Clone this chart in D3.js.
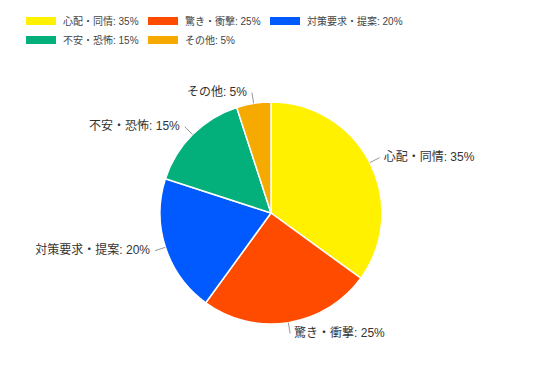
<!DOCTYPE html>
<html>
<head>
<meta charset="utf-8">
<script src="https://cdn.jsdelivr.net/npm/d3@7"></script>
<style>
  body { margin: 0; background: #fff; }
  svg { font-family: Arial, "Liberation Sans", "Noto Sans CJK JP", sans-serif; }
</style>
</head>
<body>
<div id="vis"></div>
<script>
var categories = ['心配・同情', '驚き・衝撃', '対策要求・提案', '不安・恐怖', 'その他'];
var values = [35, 25, 20, 15, 5];
var colors = ['#FFF100', '#FF4B00', '#005AFF', '#03AF7A', '#F6AA00'];

var width = 541, height = 383;
var cx = 271, cy = 213, radius = 111;

var data = categories.map(function (c, i) {
  return { name: c, value: values[i], color: colors[i] };
});

var svg = d3.select('#vis').append('svg')
  .attr('width', width)
  .attr('height', height);

// legend, 3 per row
var legend = svg.append('g').attr('class', 'legend');
var colX = [26, 148, 270];
data.forEach(function (d, i) {
  var row = Math.floor(i / 3), col = i % 3;
  var g = legend.append('g')
    .attr('transform', 'translate(' + colX[col] + ',' + (21 + row * 19) + ')');
  g.append('rect')
    .attr('x', 0).attr('y', -4)
    .attr('width', 30).attr('height', 8)
    .attr('fill', d.color);
  g.append('text')
    .attr('x', 37).attr('y', 0)
    .attr('dy', '0.35em')
    .attr('font-size', 10)
    .attr('fill', '#444')
    .text(d.name + ': ' + d.value + '%');
});

var pie = d3.pie().sort(null).value(function (d) { return d.value; });
var arc = d3.arc().innerRadius(0).outerRadius(radius);
var arcs = pie(data);

var chart = svg.append('g').attr('transform', 'translate(' + cx + ',' + cy + ')');

chart.selectAll('path.slice')
  .data(arcs)
  .enter().append('path')
  .attr('class', 'slice')
  .attr('d', arc)
  .attr('fill', function (d) { return d.data.color; })
  .attr('stroke', '#fff')
  .attr('stroke-width', 1.5);

function pt(d, r) {
  var a = (d.startAngle + d.endAngle) / 2;
  return [Math.sin(a) * r, -Math.cos(a) * r];
}

chart.selectAll('line.leader')
  .data(arcs)
  .enter().append('line')
  .attr('class', 'leader')
  .attr('x1', function (d) { return pt(d, radius)[0]; })
  .attr('y1', function (d) { return pt(d, radius)[1]; })
  .attr('x2', function (d) { return pt(d, radius + 11)[0]; })
  .attr('y2', function (d) { return pt(d, radius + 11)[1]; })
  .attr('stroke', '#999')
  .attr('stroke-width', 1);

chart.selectAll('text.label')
  .data(arcs)
  .enter().append('text')
  .attr('class', 'label')
  .attr('x', function (d) {
    var p = pt(d, radius + 11);
    return p[0] >= 0 ? p[0] + 4 : p[0] - 5;
  })
  .attr('y', function (d) { return pt(d, radius + 11)[1] - 1; })
  .attr('dy', '0.35em')
  .attr('text-anchor', function (d) { return pt(d, 1)[0] >= 0 ? 'start' : 'end'; })
  .attr('font-size', 12)
  .attr('fill', '#333')
  .text(function (d) { return d.data.name + ': ' + d.data.value + '%'; });
</script>
</body>
</html>
